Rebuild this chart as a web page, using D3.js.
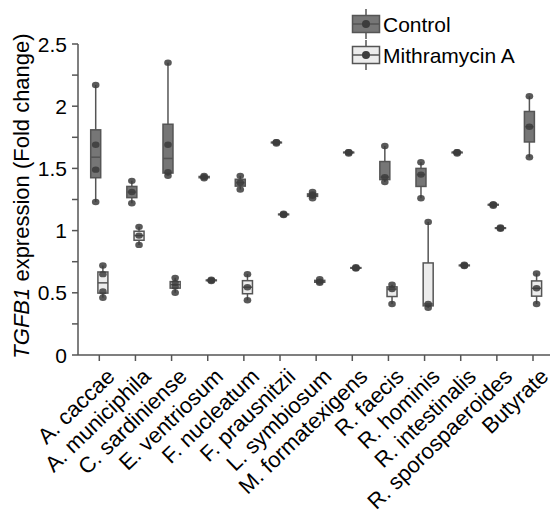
<!DOCTYPE html>
<html>
<head>
  <meta charset="utf-8">
  <script src="https://d3js.org/d3.v7.min.js"></script>
  <style>
    body { margin: 0; background: #fff; }
    text { font-family: "Liberation Sans", Arial, sans-serif; fill: #000; }
  </style>
</head>
<body>
<script>
// categories on the x axis
var species = ["A. caccae", "A. municiphila", "C. sardiniense", "E. ventriosum",
  "F. nucleatum", "F. prausnitzii", "L. symbiosum", "M. formatexigens",
  "R. faecis", "R. hominis", "R. intestinalis", "R. sporospaeroides", "Butyrate"];

// replicate values (fold change)
var control = [
  [1.23, 1.49, 1.69, 2.17],
  [1.22, 1.31, 1.40],
  [1.44, 1.47, 1.69, 2.35],
  [1.42, 1.43, 1.44],
  [1.33, 1.385, 1.44],
  [1.70, 1.71, 1.71],
  [1.26, 1.28, 1.29, 1.31],
  [1.62, 1.63, 1.63],
  [1.39, 1.43, 1.68],
  [1.26, 1.45, 1.55],
  [1.62, 1.63, 1.63],
  [1.20, 1.21, 1.21],
  [1.59, 1.835, 2.08]
];
var mithramycin = [
  [0.46, 0.51, 0.65, 0.72],
  [0.885, 0.96, 1.03],
  [0.50, 0.55, 0.58, 0.62],
  [0.595, 0.60, 0.605],
  [0.44, 0.545, 0.65],
  [1.125, 1.13, 1.135],
  [0.58, 0.59, 0.61],
  [0.695, 0.70, 0.705],
  [0.41, 0.53, 0.565],
  [0.38, 0.41, 1.07],
  [0.715, 0.72, 0.725],
  [1.015, 1.02, 1.025],
  [0.41, 0.536, 0.655]
];

var yTicks = [0, 0.5, 1, 1.5, 2, 2.5];
var yMinor = [0.25, 0.75, 1.25, 1.75, 2.25];
var seriesNames = ["Control", "Mithramycin A"];

var width = 550, height = 510;
var svg = d3.select("body").append("svg")
  .attr("width", width).attr("height", height);

var x = d3.scalePoint().domain(species).range([99.3, 533]);
var y = d3.scaleLinear().domain([0, 2.5]).range([355, 44]);

var axisColor = "#555";
var series = [
  { name: seriesNames[0], data: control, fill: "#767676", off: -3.6 },
  { name: seriesNames[1], data: mithramycin, fill: "#ececec", off: 3.6 }
];
var boxW = 10;

// y axis
var yAxis = svg.append("g").attr("transform", "translate(78,0)");
yAxis.append("line").attr("x1", 0).attr("x2", 0)
  .attr("y1", y(2.5)).attr("y2", y(0)).attr("stroke", axisColor).attr("stroke-width", 1.5);
yAxis.selectAll(".tk").data(yTicks.concat(yMinor)).enter().append("line")
  .attr("x1", -6).attr("x2", 0)
  .attr("y1", function (d) { return y(d); }).attr("y2", function (d) { return y(d); })
  .attr("stroke", axisColor).attr("stroke-width", 1.5);
yAxis.selectAll(".lb").data(yTicks).enter().append("text")
  .attr("x", -11).attr("y", function (d) { return y(d); })
  .attr("dy", "0.36em").attr("text-anchor", "end")
  .style("font-size", "21px")
  .text(function (d) { return d; });

// y title
var yt = svg.append("text")
  .attr("transform", "translate(29,196) rotate(-90)")
  .attr("text-anchor", "middle")
  .style("font-size", "22px");
yt.append("tspan").style("font-style", "italic").text("TGFB1");
yt.append("tspan").text(" expression (Fold change)");

// x axis
var xAxis = svg.append("g").attr("transform", "translate(0,355)");
xAxis.append("line").attr("x1", 78).attr("x2", 550)
  .attr("y1", 0).attr("y2", 0).attr("stroke", axisColor).attr("stroke-width", 1.5);
xAxis.selectAll(".tk").data(species).enter().append("line")
  .attr("x1", function (d) { return x(d); }).attr("x2", function (d) { return x(d); })
  .attr("y1", 0).attr("y2", 6).attr("stroke", axisColor).attr("stroke-width", 1.5);
xAxis.selectAll(".lb").data(species).enter().append("text")
  .attr("transform", function (d) { return "translate(" + (x(d) + 6) + ",12) rotate(-44)"; })
  .attr("text-anchor", "end").attr("dy", "0.7em")
  .style("font-size", "22px")
  .text(function (d) { return d; });

// boxes
series.forEach(function (s) {
  var g = svg.append("g");
  species.forEach(function (sp, i) {
    var vals = s.data[i].slice().sort(d3.ascending);
    var q1 = d3.quantile(vals, 0.25), med = d3.quantile(vals, 0.5), q3 = d3.quantile(vals, 0.75);
    var cx = x(sp) + s.off;
    g.append("line").attr("x1", cx).attr("x2", cx)
      .attr("y1", y(d3.max(vals))).attr("y2", y(d3.min(vals)))
      .attr("stroke", axisColor).attr("stroke-width", 1.5);
    g.append("rect").attr("x", cx - boxW / 2).attr("width", boxW)
      .attr("y", y(q3)).attr("height", Math.max(0.5, y(q1) - y(q3)))
      .attr("fill", s.fill).attr("stroke", axisColor).attr("stroke-width", 1.5);
    g.append("line").attr("x1", cx - boxW / 2).attr("x2", cx + boxW / 2)
      .attr("y1", y(med)).attr("y2", y(med))
      .attr("stroke", axisColor).attr("stroke-width", 1.5);
    g.selectAll(".pt").data(vals).enter().append("ellipse")
      .attr("cx", cx).attr("cy", function (d) { return y(d); })
      .attr("rx", 3.8).attr("ry", 3.2)
      .attr("fill", "#3c3c3c").attr("opacity", 0.85);
  });
});

// legend
var legend = svg.append("g");
series.forEach(function (s, i) {
  var cy = 24 + i * 31;
  var lg = legend.append("g").attr("transform", "translate(366," + cy + ")");
  lg.append("line").attr("x1", 0).attr("x2", 0).attr("y1", -15).attr("y2", 15)
    .attr("stroke", axisColor).attr("stroke-width", 1.5);
  lg.append("rect").attr("x", -13.5).attr("y", -8.5).attr("width", 27).attr("height", 17)
    .attr("fill", s.fill).attr("stroke", axisColor).attr("stroke-width", 1.5);
  lg.append("line").attr("x1", -13.5).attr("x2", 13.5).attr("y1", 0).attr("y2", 0)
    .attr("stroke", axisColor).attr("stroke-width", 1.5);
  lg.append("circle").attr("r", 4).attr("fill", "#3c3c3c");
  legend.append("text").attr("x", 383).attr("y", cy).attr("dy", "0.36em")
    .style("font-size", "21px").text(s.name);
});
</script>
</body>
</html>
